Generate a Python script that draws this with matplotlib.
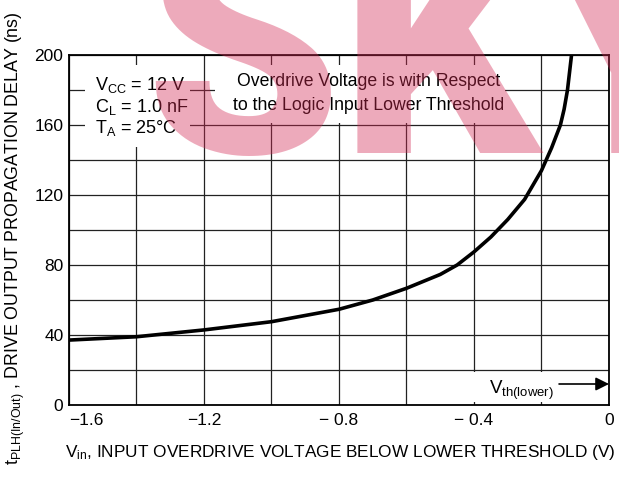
import numpy as np
import matplotlib
matplotlib.use('Agg')
import matplotlib.pyplot as plt
from matplotlib.patches import Rectangle

# 曲线数据
vin = [-1.6, -1.4, -1.2, -1.0, -0.8, -0.7, -0.6, -0.5, -0.45, -0.4, -0.35,
       -0.3, -0.25, -0.2, -0.17, -0.144, -0.133, -0.123, -0.117, -0.111]
tplh = [37.1, 39.0, 42.9, 47.6, 54.7, 60.0, 66.7, 74.6, 80.0, 87.5, 96.0,
        106.0, 117.5, 134.0, 147.0, 160.0, 169.0, 180.0, 190.0, 200.0]

# 坐标轴刻度
x_ticks = [-1.6, -1.2, -0.8, -0.4, 0]
x_labels = ['\u22121.6', '\u22121.2', '\u2212 0.8', '\u2212 0.4', '0']
y_ticks = [0, 40, 80, 120, 160, 200]

cond_lines = [r'V$_{\mathrm{CC}}$ = 12 V', r'C$_{\mathrm{L}}$ = 1.0 nF',
              r'T$_{\mathrm{A}}$ = 25°C']
note_lines = ['Overdrive Voltage is with Respect',
              'to the Logic Input Lower Threshold']

font = 'Liberation Sans'
plt.rcParams['font.family'] = [font, 'DejaVu Sans']
plt.rcParams['mathtext.fontset'] = 'custom'
plt.rcParams['mathtext.rm'] = font
plt.rcParams['mathtext.it'] = font + ':italic'

fig = plt.figure(figsize=(6.19, 4.79), dpi=100)
ax = fig.add_axes([69 / 619, 1 - 405 / 479, 540 / 619, 350 / 479])

ax.set_xlim(-1.6, 0)
ax.set_ylim(0, 200)
ax.set_xticks(x_ticks)
ax.set_xticklabels(x_labels)
ax.set_xticks(np.arange(-1.6, 0.001, 0.2), minor=True)
ax.set_yticks(y_ticks)
ax.set_yticks(np.arange(0, 201, 20), minor=True)
ax.grid(which='both', color='#222222', linewidth=0.9)
ax.tick_params(which='both', length=0, labelsize=12.5)
ax.tick_params(axis='x', pad=6)
ax.tick_params(axis='y', pad=4)
ax.get_xticklabels()[0].set_horizontalalignment('left')
for s in ax.spines.values():
    s.set_linewidth(1.3)

# 文字背后的白底，遮住网格线
ax.add_patch(Rectangle((-1.553, 147.4), 0.311, 46.9, facecolor='white',
                       edgecolor='none', zorder=2))
ax.add_patch(Rectangle((-1.167, 161.1), 0.859, 33.2, facecolor='white',
                       edgecolor='none', zorder=2))
ax.add_patch(Rectangle((-0.412, 1.7), 0.41, 17.2, facecolor='white',
                       edgecolor='none', zorder=2))

# 曲线
ax.plot(vin, tplh, color='black', linewidth=2.6, solid_joinstyle='round',
        zorder=3)

# 条件说明
for i, s in enumerate(cond_lines):
    ax.text(-1.523, 182.9 - i * 12.4, s, fontsize=13, ha='left',
            va='center', zorder=4)
for i, s in enumerate(note_lines):
    ax.text(-0.713, 184.7 - i * 13.3, s, fontsize=12.7, ha='center',
            va='center', zorder=4)

ax.text(-0.355, 6.5, r'V$_{\mathrm{th(lower)}}$', fontsize=13.5, ha='left',
        va='baseline', zorder=4)
ax.annotate('', xy=(0, 12), xytext=(-0.148, 12),
            arrowprops=dict(arrowstyle='-|>', color='black', lw=1.2,
                            mutation_scale=20, shrinkA=0, shrinkB=0),
            annotation_clip=False, zorder=4)

# 坐标轴标题
fig.text(340 / 619, 1 - 452 / 479,
         r'V$_{\mathrm{in}}$, INPUT OVERDRIVE VOLTAGE BELOW LOWER THRESHOLD (V)',
         fontsize=12.4, ha='center', va='center')
fig.text(15 / 619, 0.503,
         r't$_{\mathrm{PLH(In/Out)}}$ , DRIVE OUTPUT PROPAGATION DELAY (ns)',
         fontsize=12.8, ha='center', va='center', rotation=90)

# 水印
fig.text(145 / 619, 1 - 153 / 479, 'SKY', fontsize=225,
         family='Roboto', fontweight=900, color='#d42c55',
         alpha=0.4, ha='left', va='baseline', zorder=10)

plt.savefig('out.png', dpi=100)
